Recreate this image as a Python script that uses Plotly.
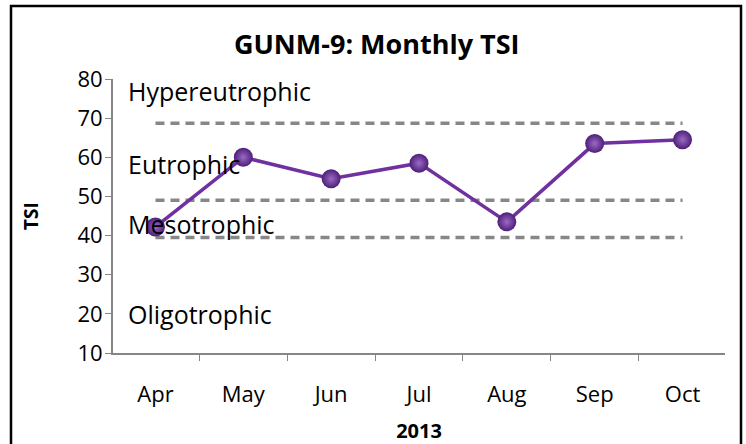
import plotly.graph_objects as go

months = ["Apr", "May", "Jun", "Jul", "Aug", "Sep", "Oct"]
tsi = [42.2, 60.0, 54.5, 58.5, 43.5, 63.5, 64.5]

# trophic state boundaries drawn as dashed reference series
boundaries = [68.7, 49.0, 39.5]
zone_names = ["Hypereutrophic", "Eutrophic", "Mesotrophic", "Oligotrophic"]
zone_label_y = [76.9, 58.4, 42.9, 19.9]

font_main = "Open Sans, Calibri, sans-serif"
purple = "#7030A0"

fig = go.Figure()

for b in boundaries:
    fig.add_trace(go.Scatter(
        x=months, y=[b] * len(months), mode="lines",
        line=dict(color="#878787", width=3.5, dash="9px,6px"),
        hoverinfo="skip", showlegend=False,
    ))

fig.add_trace(go.Scatter(
    x=months, y=tsi, mode="lines+markers",
    line=dict(color=purple, width=3.5),
    marker=dict(size=19, color="#4E1F7A",
                gradient=dict(type="radial", color="#9A6AC4"),
                line=dict(width=0)),
    showlegend=False,
))

for name, yv in zip(zone_names, zone_label_y):
    fig.add_annotation(
        x=0.022, xref="paper", y=yv, yref="y", text=name,
        showarrow=False, xanchor="left", yanchor="middle",
        font=dict(family=font_main, size=25, color="#000000"),
    )

fig.update_layout(
    width=746, height=444,
    margin=dict(l=113, r=21, t=79, b=91),
    paper_bgcolor="white", plot_bgcolor="white",
    title=dict(text="<b>GUNM-9: Monthly TSI</b>", x=0.505, xanchor="center",
               y=0.899, yanchor="middle",
               font=dict(family=font_main, size=27, color="#000000")),
    font=dict(family=font_main, size=22, color="#000000"),
    shapes=[dict(type="rect", xref="paper", yref="paper",
                 x0=(11 - 113) / 612, x1=(741 - 113) / 612,
                 y0=-0.5, y1=(353 - 6) / 274,
                 line=dict(color="#000000", width=2.5))],
)

fig.update_xaxes(
    type="category", tickson="boundaries", ticks="outside", ticklen=6,
    tickcolor="#868686", showline=True, linecolor="#868686", linewidth=2,
    showgrid=False, tickfont=dict(size=22), ticklabelstandoff=21,
    automargin=False,
    title=dict(text="<b>2013</b>", font=dict(size=20), standoff=17),
)
fig.update_yaxes(
    range=[10, 80], dtick=10, ticks="outside", ticklen=6,
    tickcolor="#868686", showline=True, linecolor="#868686", linewidth=2,
    showgrid=False, zeroline=False, tickfont=dict(size=22), ticklabelstandoff=-2,
    automargin=False,
    title=dict(text="<b>TSI</b>", font=dict(size=19), standoff=34),
)

fig.write_html("out.html", config={"displayModeBar": False},
               post_script="document.body.style.margin='0';")
